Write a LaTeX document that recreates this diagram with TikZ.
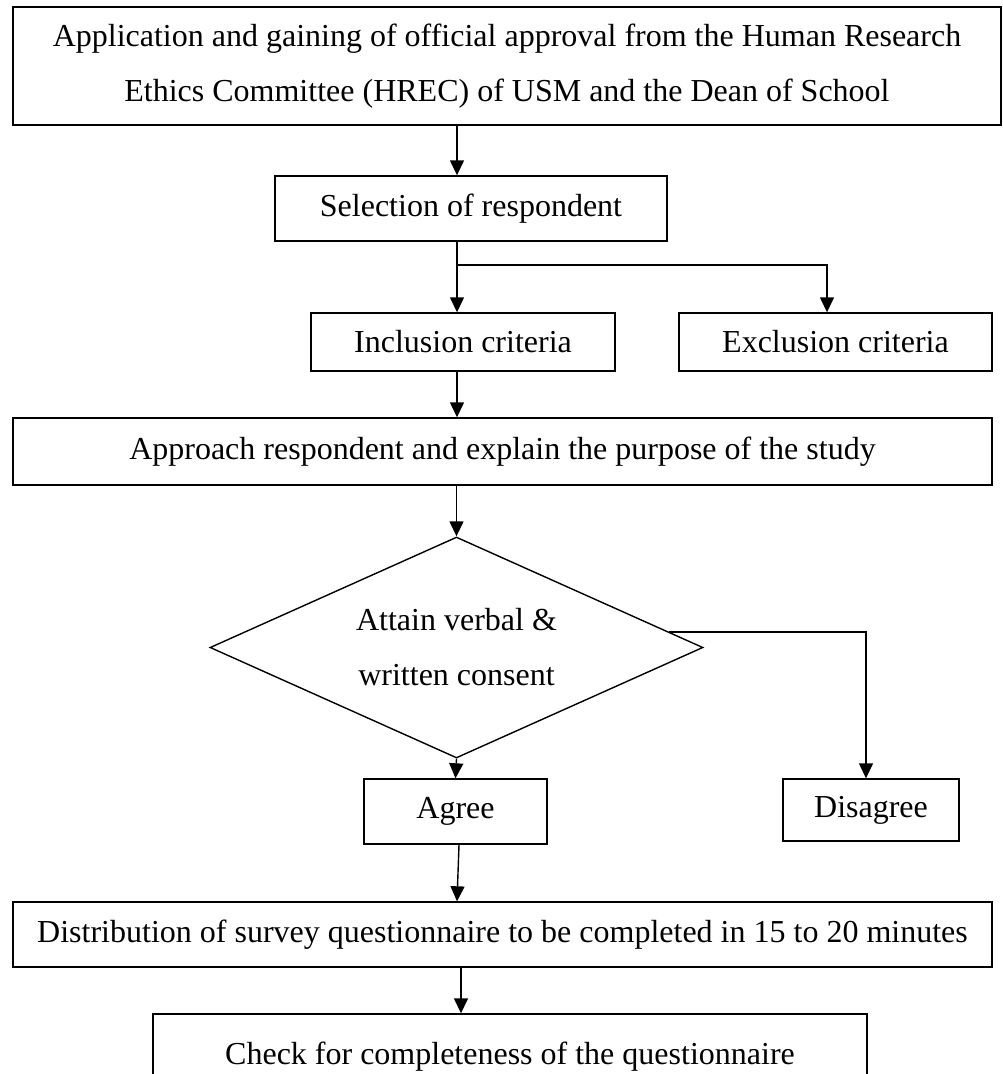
\documentclass[tikz,border=0pt]{standalone}
\usepackage{fontspec}
\setmainfont{Liberation Serif}
\usetikzlibrary{arrows.meta,shapes.geometric,calc}
\begin{document}
\begin{tikzpicture}[x=1pt,y=-1pt,
  every node/.style={font=\fontsize{32}{55}\selectfont},
  box/.style={draw,line width=1.4pt,rectangle,inner sep=0pt,align=center},
  decision/.style={draw,line width=1.4pt,diamond,inner sep=0pt,align=center,shape aspect=2.23},
  arr/.style={line width=1.4pt,-{Triangle[length=15pt,width=14pt]}},
  conn/.style={line width=1.4pt}]
\clip (0,0) rectangle (1002,1074);
\fill[white] (0,0) rectangle (1002,1074);
\coordinate (spine) at (457,0);
\coordinate (exx) at (827,0);
\coordinate (disx) at (866,0);
\coordinate (chkx) at (461,0);
\coordinate (br) at (457,265);

\node[box,minimum width=988pt,minimum height=118pt] (top) at (507,66)
  {Application and gaining of official approval from the Human Research\\Ethics Committee (HREC) of USM and the Dean of School};
\node[box,minimum width=392pt,minimum height=65pt] (sel) at (471,208.5) {Selection of respondent};
\node[box,minimum width=304pt,minimum height=58pt] (inc) at (463,342) {Inclusion criteria};
\node[box,minimum width=313pt,minimum height=58pt] (exc) at (835.5,342) {Exclusion criteria};
\node[box,minimum width=979pt,minimum height=67pt] (app) at (502.5,451.5) {Approach respondent and explain the purpose of the study};
\node[decision,minimum width=493pt,minimum height=221pt] (dec) at (456.5,647.5) {Attain verbal \&\\written consent};
\node[box,minimum width=183pt,minimum height=65pt] (agree) at (455.5,811.5) {Agree};
\node[box,minimum width=176pt,minimum height=62pt] (dis) at (871,810) {Disagree};
\node[box,minimum width=979pt,minimum height=65pt] (dist) at (502.5,934.5) {Distribution of survey questionnaire to be completed in 15 to 20 minutes};
\node[box,minimum width=714pt,minimum height=86pt] (check) at (510,1057) {Check for completeness of the questionnaire};

\draw[arr] (top.south -| spine) -- (sel.north -| spine);
\draw[arr] (sel.south -| spine) -- (inc.north -| spine);
\draw[arr] (br) -| (exc.north -| exx);
\draw[arr] (inc.south -| spine) -- (app.north -| spine);
\draw[arr] (app.south -| dec.north) -- (dec.north);
\draw[arr] (dec.south) -- (agree.north);
\draw[arr] ($(dec.north)!0.86!(dec.east)$) -| (dis.north -| disx);
\draw[arr] ($(agree.south)+(3.5,0)$) -- (dist.north -| spine);
\draw[arr] (dist.south -| chkx) -- (check.north -| chkx);
\end{tikzpicture}
\end{document}
